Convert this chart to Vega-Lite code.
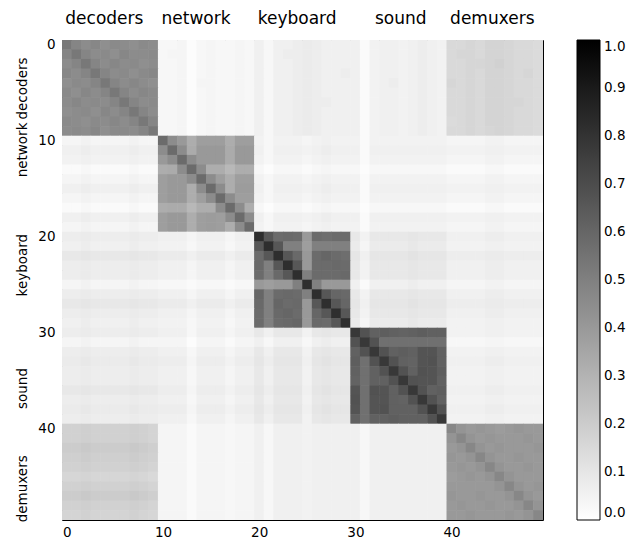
{"$schema":"https://vega.github.io/schema/vega-lite/v6.json","width":481,"height":480,"autosize":{"type":"none"},"padding":{"left":62,"top":40,"right":88,"bottom":19},
"config":{"view":{"stroke":"#000","strokeWidth":1},"font":"DejaVu Sans","axis":{"labelFont":"DejaVu Sans","labelColor":"#000","domain":false,"grid":false,"tickColor":"#000","title":null,"zindex":1}},
"data":{"values":[
{"r":0,"c":0,"v":53},{"r":0,"c":1,"v":48},{"r":0,"c":2,"v":45},{"r":0,"c":3,"v":47},{"r":0,"c":4,"v":44},{"r":0,"c":5,"v":46},{"r":0,"c":6,"v":45},{"r":0,"c":7,"v":44},{"r":0,"c":8,"v":46},{"r":0,"c":9,"v":45},{"r":0,"c":10,"v":3},{"r":0,"c":11,"v":3},{"r":0,"c":12,"v":4},{"r":0,"c":13,"v":1},{"r":0,"c":14,"v":3},{"r":0,"c":15,"v":4},{"r":0,"c":16,"v":3},{"r":0,"c":17,"v":3},{"r":0,"c":18,"v":4},{"r":0,"c":19,"v":3},{"r":0,"c":20,"v":6},{"r":0,"c":21,"v":3},{"r":0,"c":22,"v":6},{"r":0,"c":23,"v":6},{"r":0,"c":24,"v":7},{"r":0,"c":25,"v":8},{"r":0,"c":26,"v":7},{"r":0,"c":27,"v":6},{"r":0,"c":28,"v":6},{"r":0,"c":29,"v":6},{"r":0,"c":30,"v":6},{"r":0,"c":31,"v":2},{"r":0,"c":32,"v":5},{"r":0,"c":33,"v":6},{"r":0,"c":34,"v":6},{"r":0,"c":35,"v":5},{"r":0,"c":36,"v":6},{"r":0,"c":37,"v":7},{"r":0,"c":38,"v":6},{"r":0,"c":39,"v":5},{"r":0,"c":40,"v":15},{"r":0,"c":41,"v":15},{"r":0,"c":42,"v":16},{"r":0,"c":43,"v":15},{"r":0,"c":44,"v":17},{"r":0,"c":45,"v":17},{"r":0,"c":46,"v":16},{"r":0,"c":47,"v":15},{"r":0,"c":48,"v":15},{"r":0,"c":49,"v":14},
{"r":1,"c":0,"v":48},{"r":1,"c":1,"v":53},{"r":1,"c":2,"v":48},{"r":1,"c":3,"v":45},{"r":1,"c":4,"v":46},{"r":1,"c":5,"v":44},{"r":1,"c":6,"v":47},{"r":1,"c":7,"v":45},{"r":1,"c":8,"v":45},{"r":1,"c":9,"v":46},{"r":1,"c":10,"v":3},{"r":1,"c":11,"v":4},{"r":1,"c":12,"v":4},{"r":1,"c":13,"v":1},{"r":1,"c":14,"v":3},{"r":1,"c":15,"v":4},{"r":1,"c":16,"v":3},{"r":1,"c":17,"v":3},{"r":1,"c":18,"v":4},{"r":1,"c":19,"v":3},{"r":1,"c":20,"v":6},{"r":1,"c":21,"v":3},{"r":1,"c":22,"v":6},{"r":1,"c":23,"v":7},{"r":1,"c":24,"v":7},{"r":1,"c":25,"v":8},{"r":1,"c":26,"v":7},{"r":1,"c":27,"v":6},{"r":1,"c":28,"v":6},{"r":1,"c":29,"v":6},{"r":1,"c":30,"v":6},{"r":1,"c":31,"v":2},{"r":1,"c":32,"v":5},{"r":1,"c":33,"v":6},{"r":1,"c":34,"v":6},{"r":1,"c":35,"v":5},{"r":1,"c":36,"v":6},{"r":1,"c":37,"v":7},{"r":1,"c":38,"v":6},{"r":1,"c":39,"v":5},{"r":1,"c":40,"v":15},{"r":1,"c":41,"v":16},{"r":1,"c":42,"v":16},{"r":1,"c":43,"v":15},{"r":1,"c":44,"v":17},{"r":1,"c":45,"v":17},{"r":1,"c":46,"v":16},{"r":1,"c":47,"v":15},{"r":1,"c":48,"v":15},{"r":1,"c":49,"v":14},
{"r":2,"c":0,"v":45},{"r":2,"c":1,"v":48},{"r":2,"c":2,"v":53},{"r":2,"c":3,"v":48},{"r":2,"c":4,"v":45},{"r":2,"c":5,"v":47},{"r":2,"c":6,"v":45},{"r":2,"c":7,"v":46},{"r":2,"c":8,"v":44},{"r":2,"c":9,"v":45},{"r":2,"c":10,"v":3},{"r":2,"c":11,"v":3},{"r":2,"c":12,"v":4},{"r":2,"c":13,"v":1},{"r":2,"c":14,"v":3},{"r":2,"c":15,"v":4},{"r":2,"c":16,"v":3},{"r":2,"c":17,"v":3},{"r":2,"c":18,"v":4},{"r":2,"c":19,"v":3},{"r":2,"c":20,"v":6},{"r":2,"c":21,"v":3},{"r":2,"c":22,"v":6},{"r":2,"c":23,"v":6},{"r":2,"c":24,"v":7},{"r":2,"c":25,"v":8},{"r":2,"c":26,"v":7},{"r":2,"c":27,"v":6},{"r":2,"c":28,"v":6},{"r":2,"c":29,"v":6},{"r":2,"c":30,"v":6},{"r":2,"c":31,"v":2},{"r":2,"c":32,"v":5},{"r":2,"c":33,"v":6},{"r":2,"c":34,"v":6},{"r":2,"c":35,"v":5},{"r":2,"c":36,"v":6},{"r":2,"c":37,"v":7},{"r":2,"c":38,"v":6},{"r":2,"c":39,"v":5},{"r":2,"c":40,"v":15},{"r":2,"c":41,"v":15},{"r":2,"c":42,"v":16},{"r":2,"c":43,"v":16},{"r":2,"c":44,"v":17},{"r":2,"c":45,"v":18},{"r":2,"c":46,"v":16},{"r":2,"c":47,"v":15},{"r":2,"c":48,"v":15},{"r":2,"c":49,"v":14},
{"r":3,"c":0,"v":47},{"r":3,"c":1,"v":45},{"r":3,"c":2,"v":48},{"r":3,"c":3,"v":53},{"r":3,"c":4,"v":48},{"r":3,"c":5,"v":45},{"r":3,"c":6,"v":46},{"r":3,"c":7,"v":44},{"r":3,"c":8,"v":46},{"r":3,"c":9,"v":47},{"r":3,"c":10,"v":3},{"r":3,"c":11,"v":3},{"r":3,"c":12,"v":4},{"r":3,"c":13,"v":1},{"r":3,"c":14,"v":3},{"r":3,"c":15,"v":4},{"r":3,"c":16,"v":3},{"r":3,"c":17,"v":3},{"r":3,"c":18,"v":4},{"r":3,"c":19,"v":3},{"r":3,"c":20,"v":6},{"r":3,"c":21,"v":3},{"r":3,"c":22,"v":6},{"r":3,"c":23,"v":6},{"r":3,"c":24,"v":7},{"r":3,"c":25,"v":8},{"r":3,"c":26,"v":7},{"r":3,"c":27,"v":6},{"r":3,"c":28,"v":6},{"r":3,"c":29,"v":7},{"r":3,"c":30,"v":6},{"r":3,"c":31,"v":2},{"r":3,"c":32,"v":5},{"r":3,"c":33,"v":6},{"r":3,"c":34,"v":6},{"r":3,"c":35,"v":5},{"r":3,"c":36,"v":6},{"r":3,"c":37,"v":7},{"r":3,"c":38,"v":6},{"r":3,"c":39,"v":5},{"r":3,"c":40,"v":15},{"r":3,"c":41,"v":15},{"r":3,"c":42,"v":16},{"r":3,"c":43,"v":15},{"r":3,"c":44,"v":17},{"r":3,"c":45,"v":17},{"r":3,"c":46,"v":16},{"r":3,"c":47,"v":15},{"r":3,"c":48,"v":16},{"r":3,"c":49,"v":14},
{"r":4,"c":0,"v":44},{"r":4,"c":1,"v":46},{"r":4,"c":2,"v":45},{"r":4,"c":3,"v":48},{"r":4,"c":4,"v":53},{"r":4,"c":5,"v":48},{"r":4,"c":6,"v":45},{"r":4,"c":7,"v":47},{"r":4,"c":8,"v":45},{"r":4,"c":9,"v":44},{"r":4,"c":10,"v":3},{"r":4,"c":11,"v":3},{"r":4,"c":12,"v":4},{"r":4,"c":13,"v":1},{"r":4,"c":14,"v":4},{"r":4,"c":15,"v":4},{"r":4,"c":16,"v":3},{"r":4,"c":17,"v":3},{"r":4,"c":18,"v":4},{"r":4,"c":19,"v":3},{"r":4,"c":20,"v":6},{"r":4,"c":21,"v":3},{"r":4,"c":22,"v":6},{"r":4,"c":23,"v":6},{"r":4,"c":24,"v":7},{"r":4,"c":25,"v":8},{"r":4,"c":26,"v":7},{"r":4,"c":27,"v":6},{"r":4,"c":28,"v":6},{"r":4,"c":29,"v":6},{"r":4,"c":30,"v":6},{"r":4,"c":31,"v":2},{"r":4,"c":32,"v":5},{"r":4,"c":33,"v":6},{"r":4,"c":34,"v":7},{"r":4,"c":35,"v":5},{"r":4,"c":36,"v":6},{"r":4,"c":37,"v":7},{"r":4,"c":38,"v":6},{"r":4,"c":39,"v":5},{"r":4,"c":40,"v":16},{"r":4,"c":41,"v":15},{"r":4,"c":42,"v":16},{"r":4,"c":43,"v":15},{"r":4,"c":44,"v":17},{"r":4,"c":45,"v":17},{"r":4,"c":46,"v":16},{"r":4,"c":47,"v":15},{"r":4,"c":48,"v":15},{"r":4,"c":49,"v":14},
{"r":5,"c":0,"v":46},{"r":5,"c":1,"v":44},{"r":5,"c":2,"v":47},{"r":5,"c":3,"v":45},{"r":5,"c":4,"v":48},{"r":5,"c":5,"v":53},{"r":5,"c":6,"v":48},{"r":5,"c":7,"v":45},{"r":5,"c":8,"v":47},{"r":5,"c":9,"v":46},{"r":5,"c":10,"v":3},{"r":5,"c":11,"v":3},{"r":5,"c":12,"v":4},{"r":5,"c":13,"v":1},{"r":5,"c":14,"v":3},{"r":5,"c":15,"v":4},{"r":5,"c":16,"v":3},{"r":5,"c":17,"v":3},{"r":5,"c":18,"v":4},{"r":5,"c":19,"v":3},{"r":5,"c":20,"v":6},{"r":5,"c":21,"v":3},{"r":5,"c":22,"v":6},{"r":5,"c":23,"v":6},{"r":5,"c":24,"v":7},{"r":5,"c":25,"v":8},{"r":5,"c":26,"v":7},{"r":5,"c":27,"v":6},{"r":5,"c":28,"v":6},{"r":5,"c":29,"v":6},{"r":5,"c":30,"v":6},{"r":5,"c":31,"v":2},{"r":5,"c":32,"v":5},{"r":5,"c":33,"v":6},{"r":5,"c":34,"v":6},{"r":5,"c":35,"v":5},{"r":5,"c":36,"v":6},{"r":5,"c":37,"v":7},{"r":5,"c":38,"v":6},{"r":5,"c":39,"v":5},{"r":5,"c":40,"v":15},{"r":5,"c":41,"v":15},{"r":5,"c":42,"v":16},{"r":5,"c":43,"v":15},{"r":5,"c":44,"v":17},{"r":5,"c":45,"v":17},{"r":5,"c":46,"v":16},{"r":5,"c":47,"v":15},{"r":5,"c":48,"v":15},{"r":5,"c":49,"v":14},
{"r":6,"c":0,"v":45},{"r":6,"c":1,"v":47},{"r":6,"c":2,"v":45},{"r":6,"c":3,"v":46},{"r":6,"c":4,"v":45},{"r":6,"c":5,"v":48},{"r":6,"c":6,"v":53},{"r":6,"c":7,"v":48},{"r":6,"c":8,"v":45},{"r":6,"c":9,"v":46},{"r":6,"c":10,"v":3},{"r":6,"c":11,"v":3},{"r":6,"c":12,"v":4},{"r":6,"c":13,"v":1},{"r":6,"c":14,"v":3},{"r":6,"c":15,"v":4},{"r":6,"c":16,"v":3},{"r":6,"c":17,"v":3},{"r":6,"c":18,"v":4},{"r":6,"c":19,"v":3},{"r":6,"c":20,"v":6},{"r":6,"c":21,"v":3},{"r":6,"c":22,"v":6},{"r":6,"c":23,"v":6},{"r":6,"c":24,"v":7},{"r":6,"c":25,"v":8},{"r":6,"c":26,"v":7},{"r":6,"c":27,"v":7},{"r":6,"c":28,"v":6},{"r":6,"c":29,"v":6},{"r":6,"c":30,"v":6},{"r":6,"c":31,"v":2},{"r":6,"c":32,"v":5},{"r":6,"c":33,"v":6},{"r":6,"c":34,"v":6},{"r":6,"c":35,"v":5},{"r":6,"c":36,"v":6},{"r":6,"c":37,"v":7},{"r":6,"c":38,"v":6},{"r":6,"c":39,"v":5},{"r":6,"c":40,"v":15},{"r":6,"c":41,"v":15},{"r":6,"c":42,"v":16},{"r":6,"c":43,"v":15},{"r":6,"c":44,"v":17},{"r":6,"c":45,"v":17},{"r":6,"c":46,"v":16},{"r":6,"c":47,"v":16},{"r":6,"c":48,"v":15},{"r":6,"c":49,"v":14},
{"r":7,"c":0,"v":44},{"r":7,"c":1,"v":45},{"r":7,"c":2,"v":46},{"r":7,"c":3,"v":44},{"r":7,"c":4,"v":47},{"r":7,"c":5,"v":45},{"r":7,"c":6,"v":48},{"r":7,"c":7,"v":53},{"r":7,"c":8,"v":48},{"r":7,"c":9,"v":45},{"r":7,"c":10,"v":3},{"r":7,"c":11,"v":3},{"r":7,"c":12,"v":4},{"r":7,"c":13,"v":1},{"r":7,"c":14,"v":3},{"r":7,"c":15,"v":4},{"r":7,"c":16,"v":3},{"r":7,"c":17,"v":3},{"r":7,"c":18,"v":4},{"r":7,"c":19,"v":3},{"r":7,"c":20,"v":6},{"r":7,"c":21,"v":3},{"r":7,"c":22,"v":6},{"r":7,"c":23,"v":6},{"r":7,"c":24,"v":7},{"r":7,"c":25,"v":8},{"r":7,"c":26,"v":7},{"r":7,"c":27,"v":6},{"r":7,"c":28,"v":6},{"r":7,"c":29,"v":6},{"r":7,"c":30,"v":6},{"r":7,"c":31,"v":2},{"r":7,"c":32,"v":5},{"r":7,"c":33,"v":6},{"r":7,"c":34,"v":6},{"r":7,"c":35,"v":5},{"r":7,"c":36,"v":6},{"r":7,"c":37,"v":7},{"r":7,"c":38,"v":6},{"r":7,"c":39,"v":5},{"r":7,"c":40,"v":15},{"r":7,"c":41,"v":15},{"r":7,"c":42,"v":16},{"r":7,"c":43,"v":15},{"r":7,"c":44,"v":17},{"r":7,"c":45,"v":17},{"r":7,"c":46,"v":16},{"r":7,"c":47,"v":15},{"r":7,"c":48,"v":15},{"r":7,"c":49,"v":14},
{"r":8,"c":0,"v":46},{"r":8,"c":1,"v":45},{"r":8,"c":2,"v":44},{"r":8,"c":3,"v":46},{"r":8,"c":4,"v":45},{"r":8,"c":5,"v":47},{"r":8,"c":6,"v":45},{"r":8,"c":7,"v":48},{"r":8,"c":8,"v":53},{"r":8,"c":9,"v":48},{"r":8,"c":10,"v":3},{"r":8,"c":11,"v":3},{"r":8,"c":12,"v":4},{"r":8,"c":13,"v":1},{"r":8,"c":14,"v":3},{"r":8,"c":15,"v":4},{"r":8,"c":16,"v":3},{"r":8,"c":17,"v":3},{"r":8,"c":18,"v":4},{"r":8,"c":19,"v":3},{"r":8,"c":20,"v":6},{"r":8,"c":21,"v":3},{"r":8,"c":22,"v":6},{"r":8,"c":23,"v":6},{"r":8,"c":24,"v":7},{"r":8,"c":25,"v":8},{"r":8,"c":26,"v":7},{"r":8,"c":27,"v":6},{"r":8,"c":28,"v":6},{"r":8,"c":29,"v":6},{"r":8,"c":30,"v":6},{"r":8,"c":31,"v":2},{"r":8,"c":32,"v":5},{"r":8,"c":33,"v":6},{"r":8,"c":34,"v":6},{"r":8,"c":35,"v":5},{"r":8,"c":36,"v":6},{"r":8,"c":37,"v":7},{"r":8,"c":38,"v":6},{"r":8,"c":39,"v":5},{"r":8,"c":40,"v":14},{"r":8,"c":41,"v":15},{"r":8,"c":42,"v":16},{"r":8,"c":43,"v":15},{"r":8,"c":44,"v":17},{"r":8,"c":45,"v":17},{"r":8,"c":46,"v":16},{"r":8,"c":47,"v":15},{"r":8,"c":48,"v":15},{"r":8,"c":49,"v":14},
{"r":9,"c":0,"v":45},{"r":9,"c":1,"v":46},{"r":9,"c":2,"v":45},{"r":9,"c":3,"v":47},{"r":9,"c":4,"v":44},{"r":9,"c":5,"v":46},{"r":9,"c":6,"v":46},{"r":9,"c":7,"v":45},{"r":9,"c":8,"v":48},{"r":9,"c":9,"v":53},{"r":9,"c":10,"v":3},{"r":9,"c":11,"v":3},{"r":9,"c":12,"v":4},{"r":9,"c":13,"v":1},{"r":9,"c":14,"v":3},{"r":9,"c":15,"v":4},{"r":9,"c":16,"v":3},{"r":9,"c":17,"v":3},{"r":9,"c":18,"v":4},{"r":9,"c":19,"v":3},{"r":9,"c":20,"v":6},{"r":9,"c":21,"v":3},{"r":9,"c":22,"v":6},{"r":9,"c":23,"v":6},{"r":9,"c":24,"v":7},{"r":9,"c":25,"v":8},{"r":9,"c":26,"v":7},{"r":9,"c":27,"v":6},{"r":9,"c":28,"v":6},{"r":9,"c":29,"v":6},{"r":9,"c":30,"v":6},{"r":9,"c":31,"v":2},{"r":9,"c":32,"v":5},{"r":9,"c":33,"v":6},{"r":9,"c":34,"v":6},{"r":9,"c":35,"v":5},{"r":9,"c":36,"v":6},{"r":9,"c":37,"v":7},{"r":9,"c":38,"v":6},{"r":9,"c":39,"v":5},{"r":9,"c":40,"v":15},{"r":9,"c":41,"v":15},{"r":9,"c":42,"v":16},{"r":9,"c":43,"v":15},{"r":9,"c":44,"v":16},{"r":9,"c":45,"v":17},{"r":9,"c":46,"v":16},{"r":9,"c":47,"v":15},{"r":9,"c":48,"v":15},{"r":9,"c":49,"v":14},
{"r":10,"c":0,"v":4},{"r":10,"c":1,"v":4},{"r":10,"c":2,"v":5},{"r":10,"c":3,"v":4},{"r":10,"c":4,"v":4},{"r":10,"c":5,"v":4},{"r":10,"c":6,"v":4},{"r":10,"c":7,"v":5},{"r":10,"c":8,"v":4},{"r":10,"c":9,"v":4},{"r":10,"c":10,"v":58},{"r":10,"c":11,"v":45},{"r":10,"c":12,"v":40},{"r":10,"c":13,"v":32},{"r":10,"c":14,"v":38},{"r":10,"c":15,"v":38},{"r":10,"c":16,"v":38},{"r":10,"c":17,"v":32},{"r":10,"c":18,"v":38},{"r":10,"c":19,"v":38},{"r":10,"c":20,"v":5},{"r":10,"c":21,"v":3},{"r":10,"c":22,"v":5},{"r":10,"c":23,"v":5},{"r":10,"c":24,"v":5},{"r":10,"c":25,"v":4},{"r":10,"c":26,"v":5},{"r":10,"c":27,"v":6},{"r":10,"c":28,"v":5},{"r":10,"c":29,"v":5},{"r":10,"c":30,"v":5},{"r":10,"c":31,"v":2},{"r":10,"c":32,"v":5},{"r":10,"c":33,"v":5},{"r":10,"c":34,"v":5},{"r":10,"c":35,"v":5},{"r":10,"c":36,"v":5},{"r":10,"c":37,"v":5},{"r":10,"c":38,"v":5},{"r":10,"c":39,"v":5},{"r":10,"c":40,"v":4},{"r":10,"c":41,"v":4},{"r":10,"c":42,"v":4},{"r":10,"c":43,"v":4},{"r":10,"c":44,"v":5},{"r":10,"c":45,"v":5},{"r":10,"c":46,"v":4},{"r":10,"c":47,"v":4},{"r":10,"c":48,"v":4},{"r":10,"c":49,"v":4},
{"r":11,"c":0,"v":6},{"r":11,"c":1,"v":6},{"r":11,"c":2,"v":7},{"r":11,"c":3,"v":6},{"r":11,"c":4,"v":6},{"r":11,"c":5,"v":6},{"r":11,"c":6,"v":6},{"r":11,"c":7,"v":7},{"r":11,"c":8,"v":6},{"r":11,"c":9,"v":6},{"r":11,"c":10,"v":45},{"r":11,"c":11,"v":58},{"r":11,"c":12,"v":45},{"r":11,"c":13,"v":33},{"r":11,"c":14,"v":40},{"r":11,"c":15,"v":40},{"r":11,"c":16,"v":40},{"r":11,"c":17,"v":33},{"r":11,"c":18,"v":40},{"r":11,"c":19,"v":40},{"r":11,"c":20,"v":6},{"r":11,"c":21,"v":3},{"r":11,"c":22,"v":6},{"r":11,"c":23,"v":6},{"r":11,"c":24,"v":6},{"r":11,"c":25,"v":5},{"r":11,"c":26,"v":6},{"r":11,"c":27,"v":7},{"r":11,"c":28,"v":6},{"r":11,"c":29,"v":6},{"r":11,"c":30,"v":6},{"r":11,"c":31,"v":2},{"r":11,"c":32,"v":6},{"r":11,"c":33,"v":6},{"r":11,"c":34,"v":6},{"r":11,"c":35,"v":6},{"r":11,"c":36,"v":6},{"r":11,"c":37,"v":6},{"r":11,"c":38,"v":6},{"r":11,"c":39,"v":6},{"r":11,"c":40,"v":5},{"r":11,"c":41,"v":5},{"r":11,"c":42,"v":5},{"r":11,"c":43,"v":5},{"r":11,"c":44,"v":6},{"r":11,"c":45,"v":6},{"r":11,"c":46,"v":5},{"r":11,"c":47,"v":5},{"r":11,"c":48,"v":5},{"r":11,"c":49,"v":5},
{"r":12,"c":0,"v":5},{"r":12,"c":1,"v":5},{"r":12,"c":2,"v":6},{"r":12,"c":3,"v":5},{"r":12,"c":4,"v":5},{"r":12,"c":5,"v":5},{"r":12,"c":6,"v":5},{"r":12,"c":7,"v":6},{"r":12,"c":8,"v":5},{"r":12,"c":9,"v":5},{"r":12,"c":10,"v":40},{"r":12,"c":11,"v":45},{"r":12,"c":12,"v":58},{"r":12,"c":13,"v":45},{"r":12,"c":14,"v":40},{"r":12,"c":15,"v":40},{"r":12,"c":16,"v":40},{"r":12,"c":17,"v":33},{"r":12,"c":18,"v":40},{"r":12,"c":19,"v":40},{"r":12,"c":20,"v":5},{"r":12,"c":21,"v":3},{"r":12,"c":22,"v":5},{"r":12,"c":23,"v":5},{"r":12,"c":24,"v":5},{"r":12,"c":25,"v":4},{"r":12,"c":26,"v":5},{"r":12,"c":27,"v":6},{"r":12,"c":28,"v":5},{"r":12,"c":29,"v":5},{"r":12,"c":30,"v":5},{"r":12,"c":31,"v":2},{"r":12,"c":32,"v":5},{"r":12,"c":33,"v":5},{"r":12,"c":34,"v":5},{"r":12,"c":35,"v":5},{"r":12,"c":36,"v":5},{"r":12,"c":37,"v":5},{"r":12,"c":38,"v":5},{"r":12,"c":39,"v":5},{"r":12,"c":40,"v":4},{"r":12,"c":41,"v":4},{"r":12,"c":42,"v":4},{"r":12,"c":43,"v":4},{"r":12,"c":44,"v":5},{"r":12,"c":45,"v":5},{"r":12,"c":46,"v":4},{"r":12,"c":47,"v":4},{"r":12,"c":48,"v":4},{"r":12,"c":49,"v":4},
{"r":13,"c":0,"v":2},{"r":13,"c":1,"v":2},{"r":13,"c":2,"v":3},{"r":13,"c":3,"v":2},{"r":13,"c":4,"v":2},{"r":13,"c":5,"v":2},{"r":13,"c":6,"v":2},{"r":13,"c":7,"v":3},{"r":13,"c":8,"v":2},{"r":13,"c":9,"v":2},{"r":13,"c":10,"v":32},{"r":13,"c":11,"v":33},{"r":13,"c":12,"v":45},{"r":13,"c":13,"v":58},{"r":13,"c":14,"v":45},{"r":13,"c":15,"v":32},{"r":13,"c":16,"v":32},{"r":13,"c":17,"v":28},{"r":13,"c":18,"v":32},{"r":13,"c":19,"v":32},{"r":13,"c":20,"v":3},{"r":13,"c":21,"v":1},{"r":13,"c":22,"v":3},{"r":13,"c":23,"v":3},{"r":13,"c":24,"v":3},{"r":13,"c":25,"v":2},{"r":13,"c":26,"v":3},{"r":13,"c":27,"v":4},{"r":13,"c":28,"v":3},{"r":13,"c":29,"v":3},{"r":13,"c":30,"v":3},{"r":13,"c":31,"v":1},{"r":13,"c":32,"v":3},{"r":13,"c":33,"v":3},{"r":13,"c":34,"v":3},{"r":13,"c":35,"v":3},{"r":13,"c":36,"v":3},{"r":13,"c":37,"v":3},{"r":13,"c":38,"v":3},{"r":13,"c":39,"v":3},{"r":13,"c":40,"v":2},{"r":13,"c":41,"v":2},{"r":13,"c":42,"v":2},{"r":13,"c":43,"v":2},{"r":13,"c":44,"v":3},{"r":13,"c":45,"v":3},{"r":13,"c":46,"v":2},{"r":13,"c":47,"v":2},{"r":13,"c":48,"v":2},{"r":13,"c":49,"v":2},
{"r":14,"c":0,"v":4},{"r":14,"c":1,"v":4},{"r":14,"c":2,"v":5},{"r":14,"c":3,"v":4},{"r":14,"c":4,"v":4},{"r":14,"c":5,"v":4},{"r":14,"c":6,"v":4},{"r":14,"c":7,"v":5},{"r":14,"c":8,"v":4},{"r":14,"c":9,"v":4},{"r":14,"c":10,"v":38},{"r":14,"c":11,"v":40},{"r":14,"c":12,"v":40},{"r":14,"c":13,"v":45},{"r":14,"c":14,"v":58},{"r":14,"c":15,"v":45},{"r":14,"c":16,"v":38},{"r":14,"c":17,"v":32},{"r":14,"c":18,"v":38},{"r":14,"c":19,"v":38},{"r":14,"c":20,"v":5},{"r":14,"c":21,"v":3},{"r":14,"c":22,"v":5},{"r":14,"c":23,"v":5},{"r":14,"c":24,"v":5},{"r":14,"c":25,"v":4},{"r":14,"c":26,"v":5},{"r":14,"c":27,"v":6},{"r":14,"c":28,"v":5},{"r":14,"c":29,"v":5},{"r":14,"c":30,"v":5},{"r":14,"c":31,"v":2},{"r":14,"c":32,"v":5},{"r":14,"c":33,"v":5},{"r":14,"c":34,"v":5},{"r":14,"c":35,"v":5},{"r":14,"c":36,"v":5},{"r":14,"c":37,"v":5},{"r":14,"c":38,"v":5},{"r":14,"c":39,"v":5},{"r":14,"c":40,"v":4},{"r":14,"c":41,"v":4},{"r":14,"c":42,"v":4},{"r":14,"c":43,"v":4},{"r":14,"c":44,"v":5},{"r":14,"c":45,"v":5},{"r":14,"c":46,"v":4},{"r":14,"c":47,"v":4},{"r":14,"c":48,"v":4},{"r":14,"c":49,"v":4},
{"r":15,"c":0,"v":6},{"r":15,"c":1,"v":6},{"r":15,"c":2,"v":7},{"r":15,"c":3,"v":6},{"r":15,"c":4,"v":6},{"r":15,"c":5,"v":6},{"r":15,"c":6,"v":6},{"r":15,"c":7,"v":7},{"r":15,"c":8,"v":6},{"r":15,"c":9,"v":6},{"r":15,"c":10,"v":38},{"r":15,"c":11,"v":40},{"r":15,"c":12,"v":40},{"r":15,"c":13,"v":32},{"r":15,"c":14,"v":45},{"r":15,"c":15,"v":58},{"r":15,"c":16,"v":45},{"r":15,"c":17,"v":32},{"r":15,"c":18,"v":39},{"r":15,"c":19,"v":39},{"r":15,"c":20,"v":6},{"r":15,"c":21,"v":3},{"r":15,"c":22,"v":6},{"r":15,"c":23,"v":6},{"r":15,"c":24,"v":6},{"r":15,"c":25,"v":5},{"r":15,"c":26,"v":6},{"r":15,"c":27,"v":7},{"r":15,"c":28,"v":6},{"r":15,"c":29,"v":6},{"r":15,"c":30,"v":6},{"r":15,"c":31,"v":2},{"r":15,"c":32,"v":6},{"r":15,"c":33,"v":6},{"r":15,"c":34,"v":6},{"r":15,"c":35,"v":6},{"r":15,"c":36,"v":6},{"r":15,"c":37,"v":6},{"r":15,"c":38,"v":6},{"r":15,"c":39,"v":6},{"r":15,"c":40,"v":5},{"r":15,"c":41,"v":5},{"r":15,"c":42,"v":5},{"r":15,"c":43,"v":5},{"r":15,"c":44,"v":6},{"r":15,"c":45,"v":6},{"r":15,"c":46,"v":5},{"r":15,"c":47,"v":5},{"r":15,"c":48,"v":5},{"r":15,"c":49,"v":5},
{"r":16,"c":0,"v":4},{"r":16,"c":1,"v":4},{"r":16,"c":2,"v":5},{"r":16,"c":3,"v":4},{"r":16,"c":4,"v":4},{"r":16,"c":5,"v":4},{"r":16,"c":6,"v":4},{"r":16,"c":7,"v":5},{"r":16,"c":8,"v":4},{"r":16,"c":9,"v":4},{"r":16,"c":10,"v":38},{"r":16,"c":11,"v":40},{"r":16,"c":12,"v":40},{"r":16,"c":13,"v":32},{"r":16,"c":14,"v":38},{"r":16,"c":15,"v":45},{"r":16,"c":16,"v":58},{"r":16,"c":17,"v":45},{"r":16,"c":18,"v":38},{"r":16,"c":19,"v":38},{"r":16,"c":20,"v":5},{"r":16,"c":21,"v":3},{"r":16,"c":22,"v":5},{"r":16,"c":23,"v":5},{"r":16,"c":24,"v":5},{"r":16,"c":25,"v":4},{"r":16,"c":26,"v":5},{"r":16,"c":27,"v":6},{"r":16,"c":28,"v":5},{"r":16,"c":29,"v":5},{"r":16,"c":30,"v":5},{"r":16,"c":31,"v":2},{"r":16,"c":32,"v":5},{"r":16,"c":33,"v":5},{"r":16,"c":34,"v":5},{"r":16,"c":35,"v":5},{"r":16,"c":36,"v":5},{"r":16,"c":37,"v":5},{"r":16,"c":38,"v":5},{"r":16,"c":39,"v":5},{"r":16,"c":40,"v":4},{"r":16,"c":41,"v":4},{"r":16,"c":42,"v":4},{"r":16,"c":43,"v":4},{"r":16,"c":44,"v":5},{"r":16,"c":45,"v":5},{"r":16,"c":46,"v":4},{"r":16,"c":47,"v":4},{"r":16,"c":48,"v":4},{"r":16,"c":49,"v":4},
{"r":17,"c":0,"v":2},{"r":17,"c":1,"v":2},{"r":17,"c":2,"v":3},{"r":17,"c":3,"v":2},{"r":17,"c":4,"v":2},{"r":17,"c":5,"v":2},{"r":17,"c":6,"v":2},{"r":17,"c":7,"v":3},{"r":17,"c":8,"v":2},{"r":17,"c":9,"v":2},{"r":17,"c":10,"v":32},{"r":17,"c":11,"v":33},{"r":17,"c":12,"v":33},{"r":17,"c":13,"v":28},{"r":17,"c":14,"v":32},{"r":17,"c":15,"v":32},{"r":17,"c":16,"v":45},{"r":17,"c":17,"v":58},{"r":17,"c":18,"v":45},{"r":17,"c":19,"v":32},{"r":17,"c":20,"v":3},{"r":17,"c":21,"v":1},{"r":17,"c":22,"v":3},{"r":17,"c":23,"v":3},{"r":17,"c":24,"v":3},{"r":17,"c":25,"v":2},{"r":17,"c":26,"v":3},{"r":17,"c":27,"v":4},{"r":17,"c":28,"v":3},{"r":17,"c":29,"v":3},{"r":17,"c":30,"v":3},{"r":17,"c":31,"v":1},{"r":17,"c":32,"v":3},{"r":17,"c":33,"v":3},{"r":17,"c":34,"v":3},{"r":17,"c":35,"v":3},{"r":17,"c":36,"v":3},{"r":17,"c":37,"v":3},{"r":17,"c":38,"v":3},{"r":17,"c":39,"v":3},{"r":17,"c":40,"v":2},{"r":17,"c":41,"v":2},{"r":17,"c":42,"v":2},{"r":17,"c":43,"v":2},{"r":17,"c":44,"v":3},{"r":17,"c":45,"v":3},{"r":17,"c":46,"v":2},{"r":17,"c":47,"v":2},{"r":17,"c":48,"v":2},{"r":17,"c":49,"v":2},
{"r":18,"c":0,"v":6},{"r":18,"c":1,"v":6},{"r":18,"c":2,"v":7},{"r":18,"c":3,"v":6},{"r":18,"c":4,"v":6},{"r":18,"c":5,"v":6},{"r":18,"c":6,"v":6},{"r":18,"c":7,"v":7},{"r":18,"c":8,"v":6},{"r":18,"c":9,"v":6},{"r":18,"c":10,"v":38},{"r":18,"c":11,"v":40},{"r":18,"c":12,"v":40},{"r":18,"c":13,"v":32},{"r":18,"c":14,"v":38},{"r":18,"c":15,"v":39},{"r":18,"c":16,"v":38},{"r":18,"c":17,"v":45},{"r":18,"c":18,"v":58},{"r":18,"c":19,"v":45},{"r":18,"c":20,"v":6},{"r":18,"c":21,"v":3},{"r":18,"c":22,"v":6},{"r":18,"c":23,"v":6},{"r":18,"c":24,"v":6},{"r":18,"c":25,"v":5},{"r":18,"c":26,"v":6},{"r":18,"c":27,"v":7},{"r":18,"c":28,"v":6},{"r":18,"c":29,"v":6},{"r":18,"c":30,"v":6},{"r":18,"c":31,"v":2},{"r":18,"c":32,"v":6},{"r":18,"c":33,"v":6},{"r":18,"c":34,"v":6},{"r":18,"c":35,"v":6},{"r":18,"c":36,"v":6},{"r":18,"c":37,"v":6},{"r":18,"c":38,"v":6},{"r":18,"c":39,"v":6},{"r":18,"c":40,"v":5},{"r":18,"c":41,"v":5},{"r":18,"c":42,"v":5},{"r":18,"c":43,"v":5},{"r":18,"c":44,"v":6},{"r":18,"c":45,"v":6},{"r":18,"c":46,"v":5},{"r":18,"c":47,"v":5},{"r":18,"c":48,"v":5},{"r":18,"c":49,"v":5},
{"r":19,"c":0,"v":4},{"r":19,"c":1,"v":4},{"r":19,"c":2,"v":5},{"r":19,"c":3,"v":4},{"r":19,"c":4,"v":4},{"r":19,"c":5,"v":4},{"r":19,"c":6,"v":4},{"r":19,"c":7,"v":5},{"r":19,"c":8,"v":4},{"r":19,"c":9,"v":4},{"r":19,"c":10,"v":38},{"r":19,"c":11,"v":40},{"r":19,"c":12,"v":40},{"r":19,"c":13,"v":32},{"r":19,"c":14,"v":38},{"r":19,"c":15,"v":39},{"r":19,"c":16,"v":38},{"r":19,"c":17,"v":32},{"r":19,"c":18,"v":45},{"r":19,"c":19,"v":58},{"r":19,"c":20,"v":5},{"r":19,"c":21,"v":3},{"r":19,"c":22,"v":5},{"r":19,"c":23,"v":5},{"r":19,"c":24,"v":5},{"r":19,"c":25,"v":4},{"r":19,"c":26,"v":5},{"r":19,"c":27,"v":6},{"r":19,"c":28,"v":5},{"r":19,"c":29,"v":5},{"r":19,"c":30,"v":5},{"r":19,"c":31,"v":2},{"r":19,"c":32,"v":5},{"r":19,"c":33,"v":5},{"r":19,"c":34,"v":5},{"r":19,"c":35,"v":5},{"r":19,"c":36,"v":5},{"r":19,"c":37,"v":5},{"r":19,"c":38,"v":5},{"r":19,"c":39,"v":5},{"r":19,"c":40,"v":4},{"r":19,"c":41,"v":4},{"r":19,"c":42,"v":4},{"r":19,"c":43,"v":4},{"r":19,"c":44,"v":5},{"r":19,"c":45,"v":5},{"r":19,"c":46,"v":4},{"r":19,"c":47,"v":4},{"r":19,"c":48,"v":4},{"r":19,"c":49,"v":4},
{"r":20,"c":0,"v":7},{"r":20,"c":1,"v":7},{"r":20,"c":2,"v":8},{"r":20,"c":3,"v":7},{"r":20,"c":4,"v":7},{"r":20,"c":5,"v":7},{"r":20,"c":6,"v":7},{"r":20,"c":7,"v":8},{"r":20,"c":8,"v":7},{"r":20,"c":9,"v":7},{"r":20,"c":10,"v":6},{"r":20,"c":11,"v":6},{"r":20,"c":12,"v":6},{"r":20,"c":13,"v":4},{"r":20,"c":14,"v":6},{"r":20,"c":15,"v":6},{"r":20,"c":16,"v":6},{"r":20,"c":17,"v":4},{"r":20,"c":18,"v":6},{"r":20,"c":19,"v":6},{"r":20,"c":20,"v":82},{"r":20,"c":21,"v":66},{"r":20,"c":22,"v":58},{"r":20,"c":23,"v":59},{"r":20,"c":24,"v":58},{"r":20,"c":25,"v":40},{"r":20,"c":26,"v":58},{"r":20,"c":27,"v":57},{"r":20,"c":28,"v":58},{"r":20,"c":29,"v":58},{"r":20,"c":30,"v":9},{"r":20,"c":31,"v":5},{"r":20,"c":32,"v":9},{"r":20,"c":33,"v":9},{"r":20,"c":34,"v":9},{"r":20,"c":35,"v":9},{"r":20,"c":36,"v":10},{"r":20,"c":37,"v":9},{"r":20,"c":38,"v":9},{"r":20,"c":39,"v":9},{"r":20,"c":40,"v":6},{"r":20,"c":41,"v":6},{"r":20,"c":42,"v":6},{"r":20,"c":43,"v":6},{"r":20,"c":44,"v":7},{"r":20,"c":45,"v":7},{"r":20,"c":46,"v":6},{"r":20,"c":47,"v":6},{"r":20,"c":48,"v":6},{"r":20,"c":49,"v":6},
{"r":21,"c":0,"v":6},{"r":21,"c":1,"v":6},{"r":21,"c":2,"v":7},{"r":21,"c":3,"v":6},{"r":21,"c":4,"v":6},{"r":21,"c":5,"v":6},{"r":21,"c":6,"v":6},{"r":21,"c":7,"v":7},{"r":21,"c":8,"v":6},{"r":21,"c":9,"v":6},{"r":21,"c":10,"v":5},{"r":21,"c":11,"v":5},{"r":21,"c":12,"v":5},{"r":21,"c":13,"v":3},{"r":21,"c":14,"v":5},{"r":21,"c":15,"v":5},{"r":21,"c":16,"v":5},{"r":21,"c":17,"v":3},{"r":21,"c":18,"v":5},{"r":21,"c":19,"v":5},{"r":21,"c":20,"v":66},{"r":21,"c":21,"v":82},{"r":21,"c":22,"v":66},{"r":21,"c":23,"v":50},{"r":21,"c":24,"v":50},{"r":21,"c":25,"v":38},{"r":21,"c":26,"v":50},{"r":21,"c":27,"v":50},{"r":21,"c":28,"v":50},{"r":21,"c":29,"v":50},{"r":21,"c":30,"v":8},{"r":21,"c":31,"v":4},{"r":21,"c":32,"v":8},{"r":21,"c":33,"v":8},{"r":21,"c":34,"v":8},{"r":21,"c":35,"v":8},{"r":21,"c":36,"v":9},{"r":21,"c":37,"v":8},{"r":21,"c":38,"v":8},{"r":21,"c":39,"v":8},{"r":21,"c":40,"v":5},{"r":21,"c":41,"v":5},{"r":21,"c":42,"v":5},{"r":21,"c":43,"v":5},{"r":21,"c":44,"v":6},{"r":21,"c":45,"v":6},{"r":21,"c":46,"v":5},{"r":21,"c":47,"v":5},{"r":21,"c":48,"v":5},{"r":21,"c":49,"v":5},
{"r":22,"c":0,"v":9},{"r":22,"c":1,"v":9},{"r":22,"c":2,"v":10},{"r":22,"c":3,"v":9},{"r":22,"c":4,"v":9},{"r":22,"c":5,"v":9},{"r":22,"c":6,"v":9},{"r":22,"c":7,"v":10},{"r":22,"c":8,"v":9},{"r":22,"c":9,"v":9},{"r":22,"c":10,"v":8},{"r":22,"c":11,"v":8},{"r":22,"c":12,"v":8},{"r":22,"c":13,"v":6},{"r":22,"c":14,"v":8},{"r":22,"c":15,"v":8},{"r":22,"c":16,"v":8},{"r":22,"c":17,"v":6},{"r":22,"c":18,"v":8},{"r":22,"c":19,"v":8},{"r":22,"c":20,"v":58},{"r":22,"c":21,"v":66},{"r":22,"c":22,"v":82},{"r":22,"c":23,"v":66},{"r":22,"c":24,"v":59},{"r":22,"c":25,"v":40},{"r":22,"c":26,"v":58},{"r":22,"c":27,"v":60},{"r":22,"c":28,"v":58},{"r":22,"c":29,"v":57},{"r":22,"c":30,"v":10},{"r":22,"c":31,"v":6},{"r":22,"c":32,"v":10},{"r":22,"c":33,"v":10},{"r":22,"c":34,"v":10},{"r":22,"c":35,"v":10},{"r":22,"c":36,"v":11},{"r":22,"c":37,"v":10},{"r":22,"c":38,"v":10},{"r":22,"c":39,"v":10},{"r":22,"c":40,"v":7},{"r":22,"c":41,"v":7},{"r":22,"c":42,"v":7},{"r":22,"c":43,"v":7},{"r":22,"c":44,"v":8},{"r":22,"c":45,"v":8},{"r":22,"c":46,"v":7},{"r":22,"c":47,"v":7},{"r":22,"c":48,"v":7},{"r":22,"c":49,"v":7},
{"r":23,"c":0,"v":7},{"r":23,"c":1,"v":7},{"r":23,"c":2,"v":8},{"r":23,"c":3,"v":7},{"r":23,"c":4,"v":7},{"r":23,"c":5,"v":7},{"r":23,"c":6,"v":7},{"r":23,"c":7,"v":8},{"r":23,"c":8,"v":7},{"r":23,"c":9,"v":7},{"r":23,"c":10,"v":6},{"r":23,"c":11,"v":6},{"r":23,"c":12,"v":6},{"r":23,"c":13,"v":4},{"r":23,"c":14,"v":6},{"r":23,"c":15,"v":6},{"r":23,"c":16,"v":6},{"r":23,"c":17,"v":4},{"r":23,"c":18,"v":6},{"r":23,"c":19,"v":6},{"r":23,"c":20,"v":59},{"r":23,"c":21,"v":50},{"r":23,"c":22,"v":66},{"r":23,"c":23,"v":82},{"r":23,"c":24,"v":66},{"r":23,"c":25,"v":40},{"r":23,"c":26,"v":58},{"r":23,"c":27,"v":58},{"r":23,"c":28,"v":59},{"r":23,"c":29,"v":58},{"r":23,"c":30,"v":9},{"r":23,"c":31,"v":5},{"r":23,"c":32,"v":9},{"r":23,"c":33,"v":9},{"r":23,"c":34,"v":9},{"r":23,"c":35,"v":9},{"r":23,"c":36,"v":10},{"r":23,"c":37,"v":9},{"r":23,"c":38,"v":9},{"r":23,"c":39,"v":9},{"r":23,"c":40,"v":6},{"r":23,"c":41,"v":6},{"r":23,"c":42,"v":6},{"r":23,"c":43,"v":6},{"r":23,"c":44,"v":7},{"r":23,"c":45,"v":7},{"r":23,"c":46,"v":6},{"r":23,"c":47,"v":6},{"r":23,"c":48,"v":6},{"r":23,"c":49,"v":6},
{"r":24,"c":0,"v":7},{"r":24,"c":1,"v":7},{"r":24,"c":2,"v":8},{"r":24,"c":3,"v":7},{"r":24,"c":4,"v":7},{"r":24,"c":5,"v":7},{"r":24,"c":6,"v":7},{"r":24,"c":7,"v":8},{"r":24,"c":8,"v":7},{"r":24,"c":9,"v":7},{"r":24,"c":10,"v":6},{"r":24,"c":11,"v":6},{"r":24,"c":12,"v":6},{"r":24,"c":13,"v":4},{"r":24,"c":14,"v":6},{"r":24,"c":15,"v":6},{"r":24,"c":16,"v":6},{"r":24,"c":17,"v":4},{"r":24,"c":18,"v":6},{"r":24,"c":19,"v":6},{"r":24,"c":20,"v":58},{"r":24,"c":21,"v":50},{"r":24,"c":22,"v":59},{"r":24,"c":23,"v":66},{"r":24,"c":24,"v":82},{"r":24,"c":25,"v":50},{"r":24,"c":26,"v":58},{"r":24,"c":27,"v":58},{"r":24,"c":28,"v":58},{"r":24,"c":29,"v":59},{"r":24,"c":30,"v":9},{"r":24,"c":31,"v":5},{"r":24,"c":32,"v":9},{"r":24,"c":33,"v":9},{"r":24,"c":34,"v":9},{"r":24,"c":35,"v":9},{"r":24,"c":36,"v":10},{"r":24,"c":37,"v":9},{"r":24,"c":38,"v":9},{"r":24,"c":39,"v":9},{"r":24,"c":40,"v":6},{"r":24,"c":41,"v":6},{"r":24,"c":42,"v":6},{"r":24,"c":43,"v":6},{"r":24,"c":44,"v":7},{"r":24,"c":45,"v":7},{"r":24,"c":46,"v":6},{"r":24,"c":47,"v":6},{"r":24,"c":48,"v":6},{"r":24,"c":49,"v":6},
{"r":25,"c":0,"v":4},{"r":25,"c":1,"v":4},{"r":25,"c":2,"v":5},{"r":25,"c":3,"v":4},{"r":25,"c":4,"v":4},{"r":25,"c":5,"v":4},{"r":25,"c":6,"v":4},{"r":25,"c":7,"v":5},{"r":25,"c":8,"v":4},{"r":25,"c":9,"v":4},{"r":25,"c":10,"v":3},{"r":25,"c":11,"v":3},{"r":25,"c":12,"v":3},{"r":25,"c":13,"v":2},{"r":25,"c":14,"v":3},{"r":25,"c":15,"v":3},{"r":25,"c":16,"v":3},{"r":25,"c":17,"v":2},{"r":25,"c":18,"v":3},{"r":25,"c":19,"v":3},{"r":25,"c":20,"v":40},{"r":25,"c":21,"v":38},{"r":25,"c":22,"v":40},{"r":25,"c":23,"v":40},{"r":25,"c":24,"v":50},{"r":25,"c":25,"v":82},{"r":25,"c":26,"v":50},{"r":25,"c":27,"v":40},{"r":25,"c":28,"v":40},{"r":25,"c":29,"v":40},{"r":25,"c":30,"v":6},{"r":25,"c":31,"v":2},{"r":25,"c":32,"v":6},{"r":25,"c":33,"v":6},{"r":25,"c":34,"v":6},{"r":25,"c":35,"v":6},{"r":25,"c":36,"v":7},{"r":25,"c":37,"v":6},{"r":25,"c":38,"v":6},{"r":25,"c":39,"v":6},{"r":25,"c":40,"v":4},{"r":25,"c":41,"v":4},{"r":25,"c":42,"v":4},{"r":25,"c":43,"v":4},{"r":25,"c":44,"v":5},{"r":25,"c":45,"v":5},{"r":25,"c":46,"v":4},{"r":25,"c":47,"v":4},{"r":25,"c":48,"v":4},{"r":25,"c":49,"v":4},
{"r":26,"c":0,"v":7},{"r":26,"c":1,"v":7},{"r":26,"c":2,"v":8},{"r":26,"c":3,"v":7},{"r":26,"c":4,"v":7},{"r":26,"c":5,"v":7},{"r":26,"c":6,"v":7},{"r":26,"c":7,"v":8},{"r":26,"c":8,"v":7},{"r":26,"c":9,"v":7},{"r":26,"c":10,"v":6},{"r":26,"c":11,"v":6},{"r":26,"c":12,"v":6},{"r":26,"c":13,"v":4},{"r":26,"c":14,"v":6},{"r":26,"c":15,"v":6},{"r":26,"c":16,"v":6},{"r":26,"c":17,"v":4},{"r":26,"c":18,"v":6},{"r":26,"c":19,"v":6},{"r":26,"c":20,"v":60},{"r":26,"c":21,"v":50},{"r":26,"c":22,"v":58},{"r":26,"c":23,"v":59},{"r":26,"c":24,"v":58},{"r":26,"c":25,"v":50},{"r":26,"c":26,"v":82},{"r":26,"c":27,"v":66},{"r":26,"c":28,"v":60},{"r":26,"c":29,"v":59},{"r":26,"c":30,"v":9},{"r":26,"c":31,"v":5},{"r":26,"c":32,"v":9},{"r":26,"c":33,"v":9},{"r":26,"c":34,"v":9},{"r":26,"c":35,"v":9},{"r":26,"c":36,"v":10},{"r":26,"c":37,"v":9},{"r":26,"c":38,"v":9},{"r":26,"c":39,"v":9},{"r":26,"c":40,"v":6},{"r":26,"c":41,"v":6},{"r":26,"c":42,"v":6},{"r":26,"c":43,"v":6},{"r":26,"c":44,"v":7},{"r":26,"c":45,"v":7},{"r":26,"c":46,"v":6},{"r":26,"c":47,"v":6},{"r":26,"c":48,"v":6},{"r":26,"c":49,"v":6},
{"r":27,"c":0,"v":9},{"r":27,"c":1,"v":9},{"r":27,"c":2,"v":10},{"r":27,"c":3,"v":9},{"r":27,"c":4,"v":9},{"r":27,"c":5,"v":9},{"r":27,"c":6,"v":9},{"r":27,"c":7,"v":10},{"r":27,"c":8,"v":9},{"r":27,"c":9,"v":9},{"r":27,"c":10,"v":8},{"r":27,"c":11,"v":8},{"r":27,"c":12,"v":8},{"r":27,"c":13,"v":6},{"r":27,"c":14,"v":8},{"r":27,"c":15,"v":8},{"r":27,"c":16,"v":8},{"r":27,"c":17,"v":6},{"r":27,"c":18,"v":8},{"r":27,"c":19,"v":8},{"r":27,"c":20,"v":59},{"r":27,"c":21,"v":50},{"r":27,"c":22,"v":60},{"r":27,"c":23,"v":58},{"r":27,"c":24,"v":59},{"r":27,"c":25,"v":40},{"r":27,"c":26,"v":66},{"r":27,"c":27,"v":82},{"r":27,"c":28,"v":66},{"r":27,"c":29,"v":60},{"r":27,"c":30,"v":10},{"r":27,"c":31,"v":6},{"r":27,"c":32,"v":10},{"r":27,"c":33,"v":10},{"r":27,"c":34,"v":10},{"r":27,"c":35,"v":10},{"r":27,"c":36,"v":11},{"r":27,"c":37,"v":10},{"r":27,"c":38,"v":10},{"r":27,"c":39,"v":10},{"r":27,"c":40,"v":7},{"r":27,"c":41,"v":7},{"r":27,"c":42,"v":7},{"r":27,"c":43,"v":7},{"r":27,"c":44,"v":8},{"r":27,"c":45,"v":8},{"r":27,"c":46,"v":7},{"r":27,"c":47,"v":7},{"r":27,"c":48,"v":7},{"r":27,"c":49,"v":7},
{"r":28,"c":0,"v":7},{"r":28,"c":1,"v":7},{"r":28,"c":2,"v":8},{"r":28,"c":3,"v":7},{"r":28,"c":4,"v":7},{"r":28,"c":5,"v":7},{"r":28,"c":6,"v":7},{"r":28,"c":7,"v":8},{"r":28,"c":8,"v":7},{"r":28,"c":9,"v":7},{"r":28,"c":10,"v":6},{"r":28,"c":11,"v":6},{"r":28,"c":12,"v":6},{"r":28,"c":13,"v":4},{"r":28,"c":14,"v":6},{"r":28,"c":15,"v":6},{"r":28,"c":16,"v":6},{"r":28,"c":17,"v":4},{"r":28,"c":18,"v":6},{"r":28,"c":19,"v":6},{"r":28,"c":20,"v":58},{"r":28,"c":21,"v":50},{"r":28,"c":22,"v":59},{"r":28,"c":23,"v":60},{"r":28,"c":24,"v":58},{"r":28,"c":25,"v":40},{"r":28,"c":26,"v":60},{"r":28,"c":27,"v":66},{"r":28,"c":28,"v":82},{"r":28,"c":29,"v":66},{"r":28,"c":30,"v":9},{"r":28,"c":31,"v":5},{"r":28,"c":32,"v":9},{"r":28,"c":33,"v":9},{"r":28,"c":34,"v":9},{"r":28,"c":35,"v":9},{"r":28,"c":36,"v":10},{"r":28,"c":37,"v":9},{"r":28,"c":38,"v":9},{"r":28,"c":39,"v":9},{"r":28,"c":40,"v":6},{"r":28,"c":41,"v":6},{"r":28,"c":42,"v":6},{"r":28,"c":43,"v":6},{"r":28,"c":44,"v":7},{"r":28,"c":45,"v":7},{"r":28,"c":46,"v":6},{"r":28,"c":47,"v":6},{"r":28,"c":48,"v":6},{"r":28,"c":49,"v":6},
{"r":29,"c":0,"v":6},{"r":29,"c":1,"v":6},{"r":29,"c":2,"v":7},{"r":29,"c":3,"v":6},{"r":29,"c":4,"v":6},{"r":29,"c":5,"v":6},{"r":29,"c":6,"v":6},{"r":29,"c":7,"v":7},{"r":29,"c":8,"v":6},{"r":29,"c":9,"v":6},{"r":29,"c":10,"v":5},{"r":29,"c":11,"v":5},{"r":29,"c":12,"v":5},{"r":29,"c":13,"v":3},{"r":29,"c":14,"v":5},{"r":29,"c":15,"v":5},{"r":29,"c":16,"v":5},{"r":29,"c":17,"v":3},{"r":29,"c":18,"v":5},{"r":29,"c":19,"v":5},{"r":29,"c":20,"v":58},{"r":29,"c":21,"v":50},{"r":29,"c":22,"v":58},{"r":29,"c":23,"v":59},{"r":29,"c":24,"v":60},{"r":29,"c":25,"v":40},{"r":29,"c":26,"v":59},{"r":29,"c":27,"v":58},{"r":29,"c":28,"v":66},{"r":29,"c":29,"v":82},{"r":29,"c":30,"v":8},{"r":29,"c":31,"v":4},{"r":29,"c":32,"v":8},{"r":29,"c":33,"v":8},{"r":29,"c":34,"v":8},{"r":29,"c":35,"v":8},{"r":29,"c":36,"v":9},{"r":29,"c":37,"v":8},{"r":29,"c":38,"v":8},{"r":29,"c":39,"v":8},{"r":29,"c":40,"v":5},{"r":29,"c":41,"v":5},{"r":29,"c":42,"v":5},{"r":29,"c":43,"v":5},{"r":29,"c":44,"v":6},{"r":29,"c":45,"v":6},{"r":29,"c":46,"v":5},{"r":29,"c":47,"v":5},{"r":29,"c":48,"v":5},{"r":29,"c":49,"v":5},
{"r":30,"c":0,"v":7},{"r":30,"c":1,"v":7},{"r":30,"c":2,"v":8},{"r":30,"c":3,"v":7},{"r":30,"c":4,"v":7},{"r":30,"c":5,"v":7},{"r":30,"c":6,"v":7},{"r":30,"c":7,"v":8},{"r":30,"c":8,"v":7},{"r":30,"c":9,"v":7},{"r":30,"c":10,"v":6},{"r":30,"c":11,"v":6},{"r":30,"c":12,"v":6},{"r":30,"c":13,"v":3},{"r":30,"c":14,"v":6},{"r":30,"c":15,"v":6},{"r":30,"c":16,"v":6},{"r":30,"c":17,"v":4},{"r":30,"c":18,"v":6},{"r":30,"c":19,"v":6},{"r":30,"c":20,"v":9},{"r":30,"c":21,"v":6},{"r":30,"c":22,"v":9},{"r":30,"c":23,"v":9},{"r":30,"c":24,"v":9},{"r":30,"c":25,"v":5},{"r":30,"c":26,"v":9},{"r":30,"c":27,"v":10},{"r":30,"c":28,"v":9},{"r":30,"c":29,"v":9},{"r":30,"c":30,"v":78},{"r":30,"c":31,"v":68},{"r":30,"c":32,"v":62},{"r":30,"c":33,"v":63},{"r":30,"c":34,"v":62},{"r":30,"c":35,"v":61},{"r":30,"c":36,"v":62},{"r":30,"c":37,"v":63},{"r":30,"c":38,"v":62},{"r":30,"c":39,"v":62},{"r":30,"c":40,"v":5},{"r":30,"c":41,"v":5},{"r":30,"c":42,"v":5},{"r":30,"c":43,"v":5},{"r":30,"c":44,"v":6},{"r":30,"c":45,"v":6},{"r":30,"c":46,"v":5},{"r":30,"c":47,"v":5},{"r":30,"c":48,"v":5},{"r":30,"c":49,"v":5},
{"r":31,"c":0,"v":4},{"r":31,"c":1,"v":4},{"r":31,"c":2,"v":5},{"r":31,"c":3,"v":4},{"r":31,"c":4,"v":4},{"r":31,"c":5,"v":4},{"r":31,"c":6,"v":4},{"r":31,"c":7,"v":5},{"r":31,"c":8,"v":4},{"r":31,"c":9,"v":4},{"r":31,"c":10,"v":4},{"r":31,"c":11,"v":4},{"r":31,"c":12,"v":4},{"r":31,"c":13,"v":1},{"r":31,"c":14,"v":4},{"r":31,"c":15,"v":4},{"r":31,"c":16,"v":4},{"r":31,"c":17,"v":2},{"r":31,"c":18,"v":4},{"r":31,"c":19,"v":4},{"r":31,"c":20,"v":6},{"r":31,"c":21,"v":3},{"r":31,"c":22,"v":6},{"r":31,"c":23,"v":6},{"r":31,"c":24,"v":6},{"r":31,"c":25,"v":3},{"r":31,"c":26,"v":6},{"r":31,"c":27,"v":7},{"r":31,"c":28,"v":6},{"r":31,"c":29,"v":6},{"r":31,"c":30,"v":68},{"r":31,"c":31,"v":78},{"r":31,"c":32,"v":68},{"r":31,"c":33,"v":56},{"r":31,"c":34,"v":56},{"r":31,"c":35,"v":56},{"r":31,"c":36,"v":56},{"r":31,"c":37,"v":56},{"r":31,"c":38,"v":56},{"r":31,"c":39,"v":56},{"r":31,"c":40,"v":3},{"r":31,"c":41,"v":3},{"r":31,"c":42,"v":3},{"r":31,"c":43,"v":3},{"r":31,"c":44,"v":4},{"r":31,"c":45,"v":4},{"r":31,"c":46,"v":3},{"r":31,"c":47,"v":3},{"r":31,"c":48,"v":3},{"r":31,"c":49,"v":3},
{"r":32,"c":0,"v":7},{"r":32,"c":1,"v":7},{"r":32,"c":2,"v":8},{"r":32,"c":3,"v":7},{"r":32,"c":4,"v":7},{"r":32,"c":5,"v":7},{"r":32,"c":6,"v":7},{"r":32,"c":7,"v":8},{"r":32,"c":8,"v":7},{"r":32,"c":9,"v":7},{"r":32,"c":10,"v":6},{"r":32,"c":11,"v":6},{"r":32,"c":12,"v":6},{"r":32,"c":13,"v":3},{"r":32,"c":14,"v":6},{"r":32,"c":15,"v":6},{"r":32,"c":16,"v":6},{"r":32,"c":17,"v":4},{"r":32,"c":18,"v":6},{"r":32,"c":19,"v":6},{"r":32,"c":20,"v":9},{"r":32,"c":21,"v":6},{"r":32,"c":22,"v":9},{"r":32,"c":23,"v":9},{"r":32,"c":24,"v":9},{"r":32,"c":25,"v":5},{"r":32,"c":26,"v":9},{"r":32,"c":27,"v":10},{"r":32,"c":28,"v":9},{"r":32,"c":29,"v":9},{"r":32,"c":30,"v":62},{"r":32,"c":31,"v":68},{"r":32,"c":32,"v":78},{"r":32,"c":33,"v":68},{"r":32,"c":34,"v":62},{"r":32,"c":35,"v":63},{"r":32,"c":36,"v":62},{"r":32,"c":37,"v":67},{"r":32,"c":38,"v":67},{"r":32,"c":39,"v":62},{"r":32,"c":40,"v":5},{"r":32,"c":41,"v":5},{"r":32,"c":42,"v":5},{"r":32,"c":43,"v":5},{"r":32,"c":44,"v":6},{"r":32,"c":45,"v":6},{"r":32,"c":46,"v":5},{"r":32,"c":47,"v":5},{"r":32,"c":48,"v":5},{"r":32,"c":49,"v":5},
{"r":33,"c":0,"v":8},{"r":33,"c":1,"v":8},{"r":33,"c":2,"v":9},{"r":33,"c":3,"v":8},{"r":33,"c":4,"v":8},{"r":33,"c":5,"v":8},{"r":33,"c":6,"v":8},{"r":33,"c":7,"v":9},{"r":33,"c":8,"v":8},{"r":33,"c":9,"v":8},{"r":33,"c":10,"v":7},{"r":33,"c":11,"v":7},{"r":33,"c":12,"v":7},{"r":33,"c":13,"v":4},{"r":33,"c":14,"v":7},{"r":33,"c":15,"v":7},{"r":33,"c":16,"v":7},{"r":33,"c":17,"v":5},{"r":33,"c":18,"v":7},{"r":33,"c":19,"v":7},{"r":33,"c":20,"v":10},{"r":33,"c":21,"v":7},{"r":33,"c":22,"v":10},{"r":33,"c":23,"v":10},{"r":33,"c":24,"v":10},{"r":33,"c":25,"v":6},{"r":33,"c":26,"v":10},{"r":33,"c":27,"v":11},{"r":33,"c":28,"v":10},{"r":33,"c":29,"v":10},{"r":33,"c":30,"v":63},{"r":33,"c":31,"v":56},{"r":33,"c":32,"v":68},{"r":33,"c":33,"v":78},{"r":33,"c":34,"v":68},{"r":33,"c":35,"v":62},{"r":33,"c":36,"v":61},{"r":33,"c":37,"v":67},{"r":33,"c":38,"v":68},{"r":33,"c":39,"v":62},{"r":33,"c":40,"v":6},{"r":33,"c":41,"v":6},{"r":33,"c":42,"v":6},{"r":33,"c":43,"v":6},{"r":33,"c":44,"v":7},{"r":33,"c":45,"v":7},{"r":33,"c":46,"v":6},{"r":33,"c":47,"v":6},{"r":33,"c":48,"v":6},{"r":33,"c":49,"v":6},
{"r":34,"c":0,"v":7},{"r":34,"c":1,"v":7},{"r":34,"c":2,"v":8},{"r":34,"c":3,"v":7},{"r":34,"c":4,"v":7},{"r":34,"c":5,"v":7},{"r":34,"c":6,"v":7},{"r":34,"c":7,"v":8},{"r":34,"c":8,"v":7},{"r":34,"c":9,"v":7},{"r":34,"c":10,"v":6},{"r":34,"c":11,"v":6},{"r":34,"c":12,"v":6},{"r":34,"c":13,"v":3},{"r":34,"c":14,"v":6},{"r":34,"c":15,"v":6},{"r":34,"c":16,"v":6},{"r":34,"c":17,"v":4},{"r":34,"c":18,"v":6},{"r":34,"c":19,"v":6},{"r":34,"c":20,"v":9},{"r":34,"c":21,"v":6},{"r":34,"c":22,"v":9},{"r":34,"c":23,"v":9},{"r":34,"c":24,"v":9},{"r":34,"c":25,"v":5},{"r":34,"c":26,"v":9},{"r":34,"c":27,"v":10},{"r":34,"c":28,"v":9},{"r":34,"c":29,"v":9},{"r":34,"c":30,"v":62},{"r":34,"c":31,"v":56},{"r":34,"c":32,"v":62},{"r":34,"c":33,"v":68},{"r":34,"c":34,"v":78},{"r":34,"c":35,"v":68},{"r":34,"c":36,"v":62},{"r":34,"c":37,"v":68},{"r":34,"c":38,"v":67},{"r":34,"c":39,"v":63},{"r":34,"c":40,"v":5},{"r":34,"c":41,"v":5},{"r":34,"c":42,"v":5},{"r":34,"c":43,"v":5},{"r":34,"c":44,"v":6},{"r":34,"c":45,"v":6},{"r":34,"c":46,"v":5},{"r":34,"c":47,"v":5},{"r":34,"c":48,"v":5},{"r":34,"c":49,"v":5},
{"r":35,"c":0,"v":7},{"r":35,"c":1,"v":7},{"r":35,"c":2,"v":8},{"r":35,"c":3,"v":7},{"r":35,"c":4,"v":7},{"r":35,"c":5,"v":7},{"r":35,"c":6,"v":7},{"r":35,"c":7,"v":8},{"r":35,"c":8,"v":7},{"r":35,"c":9,"v":7},{"r":35,"c":10,"v":6},{"r":35,"c":11,"v":6},{"r":35,"c":12,"v":6},{"r":35,"c":13,"v":3},{"r":35,"c":14,"v":6},{"r":35,"c":15,"v":6},{"r":35,"c":16,"v":6},{"r":35,"c":17,"v":4},{"r":35,"c":18,"v":6},{"r":35,"c":19,"v":6},{"r":35,"c":20,"v":9},{"r":35,"c":21,"v":6},{"r":35,"c":22,"v":9},{"r":35,"c":23,"v":9},{"r":35,"c":24,"v":9},{"r":35,"c":25,"v":5},{"r":35,"c":26,"v":9},{"r":35,"c":27,"v":10},{"r":35,"c":28,"v":9},{"r":35,"c":29,"v":9},{"r":35,"c":30,"v":61},{"r":35,"c":31,"v":56},{"r":35,"c":32,"v":62},{"r":35,"c":33,"v":62},{"r":35,"c":34,"v":68},{"r":35,"c":35,"v":78},{"r":35,"c":36,"v":68},{"r":35,"c":37,"v":67},{"r":35,"c":38,"v":67},{"r":35,"c":39,"v":62},{"r":35,"c":40,"v":5},{"r":35,"c":41,"v":5},{"r":35,"c":42,"v":5},{"r":35,"c":43,"v":5},{"r":35,"c":44,"v":6},{"r":35,"c":45,"v":6},{"r":35,"c":46,"v":5},{"r":35,"c":47,"v":5},{"r":35,"c":48,"v":5},{"r":35,"c":49,"v":5},
{"r":36,"c":0,"v":9},{"r":36,"c":1,"v":9},{"r":36,"c":2,"v":10},{"r":36,"c":3,"v":9},{"r":36,"c":4,"v":9},{"r":36,"c":5,"v":9},{"r":36,"c":6,"v":9},{"r":36,"c":7,"v":10},{"r":36,"c":8,"v":9},{"r":36,"c":9,"v":9},{"r":36,"c":10,"v":7},{"r":36,"c":11,"v":7},{"r":36,"c":12,"v":7},{"r":36,"c":13,"v":4},{"r":36,"c":14,"v":7},{"r":36,"c":15,"v":7},{"r":36,"c":16,"v":7},{"r":36,"c":17,"v":5},{"r":36,"c":18,"v":7},{"r":36,"c":19,"v":7},{"r":36,"c":20,"v":10},{"r":36,"c":21,"v":7},{"r":36,"c":22,"v":10},{"r":36,"c":23,"v":10},{"r":36,"c":24,"v":10},{"r":36,"c":25,"v":6},{"r":36,"c":26,"v":10},{"r":36,"c":27,"v":11},{"r":36,"c":28,"v":10},{"r":36,"c":29,"v":10},{"r":36,"c":30,"v":67},{"r":36,"c":31,"v":56},{"r":36,"c":32,"v":68},{"r":36,"c":33,"v":67},{"r":36,"c":34,"v":62},{"r":36,"c":35,"v":68},{"r":36,"c":36,"v":78},{"r":36,"c":37,"v":68},{"r":36,"c":38,"v":62},{"r":36,"c":39,"v":63},{"r":36,"c":40,"v":6},{"r":36,"c":41,"v":6},{"r":36,"c":42,"v":6},{"r":36,"c":43,"v":6},{"r":36,"c":44,"v":7},{"r":36,"c":45,"v":7},{"r":36,"c":46,"v":6},{"r":36,"c":47,"v":6},{"r":36,"c":48,"v":6},{"r":36,"c":49,"v":6},
{"r":37,"c":0,"v":7},{"r":37,"c":1,"v":7},{"r":37,"c":2,"v":8},{"r":37,"c":3,"v":7},{"r":37,"c":4,"v":7},{"r":37,"c":5,"v":7},{"r":37,"c":6,"v":7},{"r":37,"c":7,"v":8},{"r":37,"c":8,"v":7},{"r":37,"c":9,"v":7},{"r":37,"c":10,"v":6},{"r":37,"c":11,"v":6},{"r":37,"c":12,"v":6},{"r":37,"c":13,"v":3},{"r":37,"c":14,"v":6},{"r":37,"c":15,"v":6},{"r":37,"c":16,"v":6},{"r":37,"c":17,"v":4},{"r":37,"c":18,"v":6},{"r":37,"c":19,"v":6},{"r":37,"c":20,"v":9},{"r":37,"c":21,"v":6},{"r":37,"c":22,"v":9},{"r":37,"c":23,"v":9},{"r":37,"c":24,"v":9},{"r":37,"c":25,"v":5},{"r":37,"c":26,"v":9},{"r":37,"c":27,"v":10},{"r":37,"c":28,"v":9},{"r":37,"c":29,"v":9},{"r":37,"c":30,"v":68},{"r":37,"c":31,"v":56},{"r":37,"c":32,"v":67},{"r":37,"c":33,"v":67},{"r":37,"c":34,"v":62},{"r":37,"c":35,"v":61},{"r":37,"c":36,"v":68},{"r":37,"c":37,"v":78},{"r":37,"c":38,"v":68},{"r":37,"c":39,"v":62},{"r":37,"c":40,"v":5},{"r":37,"c":41,"v":5},{"r":37,"c":42,"v":5},{"r":37,"c":43,"v":5},{"r":37,"c":44,"v":6},{"r":37,"c":45,"v":6},{"r":37,"c":46,"v":5},{"r":37,"c":47,"v":5},{"r":37,"c":48,"v":5},{"r":37,"c":49,"v":5},
{"r":38,"c":0,"v":8},{"r":38,"c":1,"v":8},{"r":38,"c":2,"v":9},{"r":38,"c":3,"v":8},{"r":38,"c":4,"v":8},{"r":38,"c":5,"v":8},{"r":38,"c":6,"v":8},{"r":38,"c":7,"v":9},{"r":38,"c":8,"v":8},{"r":38,"c":9,"v":8},{"r":38,"c":10,"v":7},{"r":38,"c":11,"v":7},{"r":38,"c":12,"v":7},{"r":38,"c":13,"v":4},{"r":38,"c":14,"v":7},{"r":38,"c":15,"v":7},{"r":38,"c":16,"v":7},{"r":38,"c":17,"v":5},{"r":38,"c":18,"v":7},{"r":38,"c":19,"v":7},{"r":38,"c":20,"v":10},{"r":38,"c":21,"v":7},{"r":38,"c":22,"v":10},{"r":38,"c":23,"v":10},{"r":38,"c":24,"v":10},{"r":38,"c":25,"v":6},{"r":38,"c":26,"v":10},{"r":38,"c":27,"v":11},{"r":38,"c":28,"v":10},{"r":38,"c":29,"v":10},{"r":38,"c":30,"v":67},{"r":38,"c":31,"v":56},{"r":38,"c":32,"v":67},{"r":38,"c":33,"v":68},{"r":38,"c":34,"v":62},{"r":38,"c":35,"v":62},{"r":38,"c":36,"v":62},{"r":38,"c":37,"v":68},{"r":38,"c":38,"v":78},{"r":38,"c":39,"v":68},{"r":38,"c":40,"v":6},{"r":38,"c":41,"v":6},{"r":38,"c":42,"v":6},{"r":38,"c":43,"v":6},{"r":38,"c":44,"v":7},{"r":38,"c":45,"v":7},{"r":38,"c":46,"v":6},{"r":38,"c":47,"v":6},{"r":38,"c":48,"v":6},{"r":38,"c":49,"v":6},
{"r":39,"c":0,"v":7},{"r":39,"c":1,"v":7},{"r":39,"c":2,"v":8},{"r":39,"c":3,"v":7},{"r":39,"c":4,"v":7},{"r":39,"c":5,"v":7},{"r":39,"c":6,"v":7},{"r":39,"c":7,"v":8},{"r":39,"c":8,"v":7},{"r":39,"c":9,"v":7},{"r":39,"c":10,"v":6},{"r":39,"c":11,"v":6},{"r":39,"c":12,"v":6},{"r":39,"c":13,"v":3},{"r":39,"c":14,"v":6},{"r":39,"c":15,"v":6},{"r":39,"c":16,"v":6},{"r":39,"c":17,"v":4},{"r":39,"c":18,"v":6},{"r":39,"c":19,"v":6},{"r":39,"c":20,"v":9},{"r":39,"c":21,"v":6},{"r":39,"c":22,"v":9},{"r":39,"c":23,"v":9},{"r":39,"c":24,"v":9},{"r":39,"c":25,"v":5},{"r":39,"c":26,"v":9},{"r":39,"c":27,"v":10},{"r":39,"c":28,"v":9},{"r":39,"c":29,"v":9},{"r":39,"c":30,"v":62},{"r":39,"c":31,"v":56},{"r":39,"c":32,"v":62},{"r":39,"c":33,"v":62},{"r":39,"c":34,"v":63},{"r":39,"c":35,"v":62},{"r":39,"c":36,"v":62},{"r":39,"c":37,"v":62},{"r":39,"c":38,"v":68},{"r":39,"c":39,"v":78},{"r":39,"c":40,"v":5},{"r":39,"c":41,"v":5},{"r":39,"c":42,"v":5},{"r":39,"c":43,"v":5},{"r":39,"c":44,"v":6},{"r":39,"c":45,"v":6},{"r":39,"c":46,"v":5},{"r":39,"c":47,"v":5},{"r":39,"c":48,"v":5},{"r":39,"c":49,"v":5},
{"r":40,"c":0,"v":18},{"r":40,"c":1,"v":18},{"r":40,"c":2,"v":19},{"r":40,"c":3,"v":18},{"r":40,"c":4,"v":18},{"r":40,"c":5,"v":18},{"r":40,"c":6,"v":18},{"r":40,"c":7,"v":19},{"r":40,"c":8,"v":18},{"r":40,"c":9,"v":17},{"r":40,"c":10,"v":4},{"r":40,"c":11,"v":4},{"r":40,"c":12,"v":4},{"r":40,"c":13,"v":2},{"r":40,"c":14,"v":4},{"r":40,"c":15,"v":4},{"r":40,"c":16,"v":4},{"r":40,"c":17,"v":3},{"r":40,"c":18,"v":4},{"r":40,"c":19,"v":4},{"r":40,"c":20,"v":6},{"r":40,"c":21,"v":3},{"r":40,"c":22,"v":6},{"r":40,"c":23,"v":6},{"r":40,"c":24,"v":6},{"r":40,"c":25,"v":5},{"r":40,"c":26,"v":6},{"r":40,"c":27,"v":6},{"r":40,"c":28,"v":6},{"r":40,"c":29,"v":6},{"r":40,"c":30,"v":6},{"r":40,"c":31,"v":3},{"r":40,"c":32,"v":6},{"r":40,"c":33,"v":6},{"r":40,"c":34,"v":6},{"r":40,"c":35,"v":6},{"r":40,"c":36,"v":6},{"r":40,"c":37,"v":6},{"r":40,"c":38,"v":6},{"r":40,"c":39,"v":6},{"r":40,"c":40,"v":47},{"r":40,"c":41,"v":42},{"r":40,"c":42,"v":40},{"r":40,"c":43,"v":41},{"r":40,"c":44,"v":40},{"r":40,"c":45,"v":39},{"r":40,"c":46,"v":40},{"r":40,"c":47,"v":41},{"r":40,"c":48,"v":40},{"r":40,"c":49,"v":40},
{"r":41,"c":0,"v":18},{"r":41,"c":1,"v":18},{"r":41,"c":2,"v":19},{"r":41,"c":3,"v":18},{"r":41,"c":4,"v":18},{"r":41,"c":5,"v":18},{"r":41,"c":6,"v":18},{"r":41,"c":7,"v":19},{"r":41,"c":8,"v":18},{"r":41,"c":9,"v":17},{"r":41,"c":10,"v":4},{"r":41,"c":11,"v":4},{"r":41,"c":12,"v":4},{"r":41,"c":13,"v":2},{"r":41,"c":14,"v":4},{"r":41,"c":15,"v":4},{"r":41,"c":16,"v":4},{"r":41,"c":17,"v":3},{"r":41,"c":18,"v":4},{"r":41,"c":19,"v":4},{"r":41,"c":20,"v":6},{"r":41,"c":21,"v":3},{"r":41,"c":22,"v":6},{"r":41,"c":23,"v":6},{"r":41,"c":24,"v":6},{"r":41,"c":25,"v":5},{"r":41,"c":26,"v":6},{"r":41,"c":27,"v":6},{"r":41,"c":28,"v":6},{"r":41,"c":29,"v":6},{"r":41,"c":30,"v":6},{"r":41,"c":31,"v":3},{"r":41,"c":32,"v":6},{"r":41,"c":33,"v":6},{"r":41,"c":34,"v":6},{"r":41,"c":35,"v":6},{"r":41,"c":36,"v":6},{"r":41,"c":37,"v":6},{"r":41,"c":38,"v":6},{"r":41,"c":39,"v":6},{"r":41,"c":40,"v":42},{"r":41,"c":41,"v":47},{"r":41,"c":42,"v":42},{"r":41,"c":43,"v":40},{"r":41,"c":44,"v":41},{"r":41,"c":45,"v":40},{"r":41,"c":46,"v":40},{"r":41,"c":47,"v":40},{"r":41,"c":48,"v":41},{"r":41,"c":49,"v":40},
{"r":42,"c":0,"v":20},{"r":42,"c":1,"v":20},{"r":42,"c":2,"v":21},{"r":42,"c":3,"v":20},{"r":42,"c":4,"v":20},{"r":42,"c":5,"v":20},{"r":42,"c":6,"v":20},{"r":42,"c":7,"v":21},{"r":42,"c":8,"v":20},{"r":42,"c":9,"v":19},{"r":42,"c":10,"v":4},{"r":42,"c":11,"v":4},{"r":42,"c":12,"v":4},{"r":42,"c":13,"v":2},{"r":42,"c":14,"v":4},{"r":42,"c":15,"v":4},{"r":42,"c":16,"v":4},{"r":42,"c":17,"v":3},{"r":42,"c":18,"v":4},{"r":42,"c":19,"v":4},{"r":42,"c":20,"v":6},{"r":42,"c":21,"v":3},{"r":42,"c":22,"v":6},{"r":42,"c":23,"v":6},{"r":42,"c":24,"v":6},{"r":42,"c":25,"v":5},{"r":42,"c":26,"v":6},{"r":42,"c":27,"v":6},{"r":42,"c":28,"v":6},{"r":42,"c":29,"v":6},{"r":42,"c":30,"v":6},{"r":42,"c":31,"v":3},{"r":42,"c":32,"v":6},{"r":42,"c":33,"v":6},{"r":42,"c":34,"v":6},{"r":42,"c":35,"v":6},{"r":42,"c":36,"v":6},{"r":42,"c":37,"v":6},{"r":42,"c":38,"v":6},{"r":42,"c":39,"v":6},{"r":42,"c":40,"v":40},{"r":42,"c":41,"v":42},{"r":42,"c":42,"v":47},{"r":42,"c":43,"v":42},{"r":42,"c":44,"v":40},{"r":42,"c":45,"v":41},{"r":42,"c":46,"v":40},{"r":42,"c":47,"v":40},{"r":42,"c":48,"v":40},{"r":42,"c":49,"v":41},
{"r":43,"c":0,"v":19},{"r":43,"c":1,"v":19},{"r":43,"c":2,"v":20},{"r":43,"c":3,"v":19},{"r":43,"c":4,"v":19},{"r":43,"c":5,"v":19},{"r":43,"c":6,"v":19},{"r":43,"c":7,"v":20},{"r":43,"c":8,"v":19},{"r":43,"c":9,"v":18},{"r":43,"c":10,"v":4},{"r":43,"c":11,"v":4},{"r":43,"c":12,"v":4},{"r":43,"c":13,"v":2},{"r":43,"c":14,"v":4},{"r":43,"c":15,"v":4},{"r":43,"c":16,"v":4},{"r":43,"c":17,"v":3},{"r":43,"c":18,"v":4},{"r":43,"c":19,"v":4},{"r":43,"c":20,"v":6},{"r":43,"c":21,"v":3},{"r":43,"c":22,"v":6},{"r":43,"c":23,"v":6},{"r":43,"c":24,"v":6},{"r":43,"c":25,"v":5},{"r":43,"c":26,"v":6},{"r":43,"c":27,"v":6},{"r":43,"c":28,"v":6},{"r":43,"c":29,"v":6},{"r":43,"c":30,"v":6},{"r":43,"c":31,"v":3},{"r":43,"c":32,"v":6},{"r":43,"c":33,"v":6},{"r":43,"c":34,"v":6},{"r":43,"c":35,"v":6},{"r":43,"c":36,"v":6},{"r":43,"c":37,"v":6},{"r":43,"c":38,"v":6},{"r":43,"c":39,"v":6},{"r":43,"c":40,"v":41},{"r":43,"c":41,"v":40},{"r":43,"c":42,"v":42},{"r":43,"c":43,"v":47},{"r":43,"c":44,"v":42},{"r":43,"c":45,"v":40},{"r":43,"c":46,"v":40},{"r":43,"c":47,"v":41},{"r":43,"c":48,"v":40},{"r":43,"c":49,"v":40},
{"r":44,"c":0,"v":18},{"r":44,"c":1,"v":18},{"r":44,"c":2,"v":19},{"r":44,"c":3,"v":18},{"r":44,"c":4,"v":18},{"r":44,"c":5,"v":18},{"r":44,"c":6,"v":18},{"r":44,"c":7,"v":19},{"r":44,"c":8,"v":18},{"r":44,"c":9,"v":17},{"r":44,"c":10,"v":4},{"r":44,"c":11,"v":4},{"r":44,"c":12,"v":4},{"r":44,"c":13,"v":2},{"r":44,"c":14,"v":4},{"r":44,"c":15,"v":4},{"r":44,"c":16,"v":4},{"r":44,"c":17,"v":3},{"r":44,"c":18,"v":4},{"r":44,"c":19,"v":4},{"r":44,"c":20,"v":6},{"r":44,"c":21,"v":3},{"r":44,"c":22,"v":6},{"r":44,"c":23,"v":6},{"r":44,"c":24,"v":6},{"r":44,"c":25,"v":5},{"r":44,"c":26,"v":6},{"r":44,"c":27,"v":6},{"r":44,"c":28,"v":6},{"r":44,"c":29,"v":6},{"r":44,"c":30,"v":6},{"r":44,"c":31,"v":3},{"r":44,"c":32,"v":6},{"r":44,"c":33,"v":6},{"r":44,"c":34,"v":6},{"r":44,"c":35,"v":6},{"r":44,"c":36,"v":6},{"r":44,"c":37,"v":6},{"r":44,"c":38,"v":6},{"r":44,"c":39,"v":6},{"r":44,"c":40,"v":40},{"r":44,"c":41,"v":41},{"r":44,"c":42,"v":40},{"r":44,"c":43,"v":42},{"r":44,"c":44,"v":47},{"r":44,"c":45,"v":42},{"r":44,"c":46,"v":40},{"r":44,"c":47,"v":40},{"r":44,"c":48,"v":41},{"r":44,"c":49,"v":40},
{"r":45,"c":0,"v":16},{"r":45,"c":1,"v":16},{"r":45,"c":2,"v":17},{"r":45,"c":3,"v":16},{"r":45,"c":4,"v":16},{"r":45,"c":5,"v":16},{"r":45,"c":6,"v":16},{"r":45,"c":7,"v":17},{"r":45,"c":8,"v":16},{"r":45,"c":9,"v":15},{"r":45,"c":10,"v":4},{"r":45,"c":11,"v":4},{"r":45,"c":12,"v":4},{"r":45,"c":13,"v":2},{"r":45,"c":14,"v":4},{"r":45,"c":15,"v":4},{"r":45,"c":16,"v":4},{"r":45,"c":17,"v":3},{"r":45,"c":18,"v":4},{"r":45,"c":19,"v":4},{"r":45,"c":20,"v":6},{"r":45,"c":21,"v":3},{"r":45,"c":22,"v":6},{"r":45,"c":23,"v":6},{"r":45,"c":24,"v":6},{"r":45,"c":25,"v":5},{"r":45,"c":26,"v":6},{"r":45,"c":27,"v":6},{"r":45,"c":28,"v":6},{"r":45,"c":29,"v":6},{"r":45,"c":30,"v":6},{"r":45,"c":31,"v":3},{"r":45,"c":32,"v":6},{"r":45,"c":33,"v":6},{"r":45,"c":34,"v":6},{"r":45,"c":35,"v":6},{"r":45,"c":36,"v":6},{"r":45,"c":37,"v":6},{"r":45,"c":38,"v":6},{"r":45,"c":39,"v":6},{"r":45,"c":40,"v":39},{"r":45,"c":41,"v":40},{"r":45,"c":42,"v":41},{"r":45,"c":43,"v":40},{"r":45,"c":44,"v":42},{"r":45,"c":45,"v":47},{"r":45,"c":46,"v":42},{"r":45,"c":47,"v":40},{"r":45,"c":48,"v":40},{"r":45,"c":49,"v":40},
{"r":46,"c":0,"v":18},{"r":46,"c":1,"v":18},{"r":46,"c":2,"v":19},{"r":46,"c":3,"v":18},{"r":46,"c":4,"v":18},{"r":46,"c":5,"v":18},{"r":46,"c":6,"v":18},{"r":46,"c":7,"v":19},{"r":46,"c":8,"v":18},{"r":46,"c":9,"v":17},{"r":46,"c":10,"v":4},{"r":46,"c":11,"v":4},{"r":46,"c":12,"v":4},{"r":46,"c":13,"v":2},{"r":46,"c":14,"v":4},{"r":46,"c":15,"v":4},{"r":46,"c":16,"v":4},{"r":46,"c":17,"v":3},{"r":46,"c":18,"v":4},{"r":46,"c":19,"v":4},{"r":46,"c":20,"v":6},{"r":46,"c":21,"v":3},{"r":46,"c":22,"v":6},{"r":46,"c":23,"v":6},{"r":46,"c":24,"v":6},{"r":46,"c":25,"v":5},{"r":46,"c":26,"v":6},{"r":46,"c":27,"v":6},{"r":46,"c":28,"v":6},{"r":46,"c":29,"v":6},{"r":46,"c":30,"v":6},{"r":46,"c":31,"v":3},{"r":46,"c":32,"v":6},{"r":46,"c":33,"v":6},{"r":46,"c":34,"v":6},{"r":46,"c":35,"v":6},{"r":46,"c":36,"v":6},{"r":46,"c":37,"v":6},{"r":46,"c":38,"v":6},{"r":46,"c":39,"v":6},{"r":46,"c":40,"v":40},{"r":46,"c":41,"v":40},{"r":46,"c":42,"v":40},{"r":46,"c":43,"v":40},{"r":46,"c":44,"v":40},{"r":46,"c":45,"v":42},{"r":46,"c":46,"v":47},{"r":46,"c":47,"v":42},{"r":46,"c":48,"v":40},{"r":46,"c":49,"v":41},
{"r":47,"c":0,"v":20},{"r":47,"c":1,"v":20},{"r":47,"c":2,"v":21},{"r":47,"c":3,"v":20},{"r":47,"c":4,"v":20},{"r":47,"c":5,"v":20},{"r":47,"c":6,"v":20},{"r":47,"c":7,"v":21},{"r":47,"c":8,"v":20},{"r":47,"c":9,"v":19},{"r":47,"c":10,"v":4},{"r":47,"c":11,"v":4},{"r":47,"c":12,"v":4},{"r":47,"c":13,"v":2},{"r":47,"c":14,"v":4},{"r":47,"c":15,"v":4},{"r":47,"c":16,"v":4},{"r":47,"c":17,"v":3},{"r":47,"c":18,"v":4},{"r":47,"c":19,"v":4},{"r":47,"c":20,"v":6},{"r":47,"c":21,"v":3},{"r":47,"c":22,"v":6},{"r":47,"c":23,"v":6},{"r":47,"c":24,"v":6},{"r":47,"c":25,"v":5},{"r":47,"c":26,"v":6},{"r":47,"c":27,"v":6},{"r":47,"c":28,"v":6},{"r":47,"c":29,"v":6},{"r":47,"c":30,"v":6},{"r":47,"c":31,"v":3},{"r":47,"c":32,"v":6},{"r":47,"c":33,"v":6},{"r":47,"c":34,"v":6},{"r":47,"c":35,"v":6},{"r":47,"c":36,"v":6},{"r":47,"c":37,"v":6},{"r":47,"c":38,"v":6},{"r":47,"c":39,"v":6},{"r":47,"c":40,"v":41},{"r":47,"c":41,"v":40},{"r":47,"c":42,"v":40},{"r":47,"c":43,"v":41},{"r":47,"c":44,"v":40},{"r":47,"c":45,"v":40},{"r":47,"c":46,"v":42},{"r":47,"c":47,"v":47},{"r":47,"c":48,"v":42},{"r":47,"c":49,"v":40},
{"r":48,"c":0,"v":18},{"r":48,"c":1,"v":18},{"r":48,"c":2,"v":19},{"r":48,"c":3,"v":18},{"r":48,"c":4,"v":18},{"r":48,"c":5,"v":18},{"r":48,"c":6,"v":18},{"r":48,"c":7,"v":19},{"r":48,"c":8,"v":18},{"r":48,"c":9,"v":17},{"r":48,"c":10,"v":4},{"r":48,"c":11,"v":4},{"r":48,"c":12,"v":4},{"r":48,"c":13,"v":2},{"r":48,"c":14,"v":4},{"r":48,"c":15,"v":4},{"r":48,"c":16,"v":4},{"r":48,"c":17,"v":3},{"r":48,"c":18,"v":4},{"r":48,"c":19,"v":4},{"r":48,"c":20,"v":6},{"r":48,"c":21,"v":3},{"r":48,"c":22,"v":6},{"r":48,"c":23,"v":6},{"r":48,"c":24,"v":6},{"r":48,"c":25,"v":5},{"r":48,"c":26,"v":6},{"r":48,"c":27,"v":6},{"r":48,"c":28,"v":6},{"r":48,"c":29,"v":6},{"r":48,"c":30,"v":6},{"r":48,"c":31,"v":3},{"r":48,"c":32,"v":6},{"r":48,"c":33,"v":6},{"r":48,"c":34,"v":6},{"r":48,"c":35,"v":6},{"r":48,"c":36,"v":6},{"r":48,"c":37,"v":6},{"r":48,"c":38,"v":6},{"r":48,"c":39,"v":6},{"r":48,"c":40,"v":40},{"r":48,"c":41,"v":41},{"r":48,"c":42,"v":40},{"r":48,"c":43,"v":40},{"r":48,"c":44,"v":41},{"r":48,"c":45,"v":40},{"r":48,"c":46,"v":40},{"r":48,"c":47,"v":42},{"r":48,"c":48,"v":47},{"r":48,"c":49,"v":42},
{"r":49,"c":0,"v":17},{"r":49,"c":1,"v":17},{"r":49,"c":2,"v":18},{"r":49,"c":3,"v":17},{"r":49,"c":4,"v":17},{"r":49,"c":5,"v":17},{"r":49,"c":6,"v":17},{"r":49,"c":7,"v":18},{"r":49,"c":8,"v":17},{"r":49,"c":9,"v":16},{"r":49,"c":10,"v":4},{"r":49,"c":11,"v":4},{"r":49,"c":12,"v":4},{"r":49,"c":13,"v":2},{"r":49,"c":14,"v":4},{"r":49,"c":15,"v":4},{"r":49,"c":16,"v":4},{"r":49,"c":17,"v":3},{"r":49,"c":18,"v":4},{"r":49,"c":19,"v":4},{"r":49,"c":20,"v":6},{"r":49,"c":21,"v":3},{"r":49,"c":22,"v":6},{"r":49,"c":23,"v":6},{"r":49,"c":24,"v":6},{"r":49,"c":25,"v":5},{"r":49,"c":26,"v":6},{"r":49,"c":27,"v":6},{"r":49,"c":28,"v":6},{"r":49,"c":29,"v":6},{"r":49,"c":30,"v":6},{"r":49,"c":31,"v":3},{"r":49,"c":32,"v":6},{"r":49,"c":33,"v":6},{"r":49,"c":34,"v":6},{"r":49,"c":35,"v":6},{"r":49,"c":36,"v":6},{"r":49,"c":37,"v":6},{"r":49,"c":38,"v":6},{"r":49,"c":39,"v":6},{"r":49,"c":40,"v":40},{"r":49,"c":41,"v":40},{"r":49,"c":42,"v":41},{"r":49,"c":43,"v":40},{"r":49,"c":44,"v":40},{"r":49,"c":45,"v":40},{"r":49,"c":46,"v":41},{"r":49,"c":47,"v":40},{"r":49,"c":48,"v":42},{"r":49,"c":49,"v":47}
]},
"layer":[
{"mark":{"type":"square","size":104,"opacity":1,"filled":true,"strokeWidth":0,"clip":true},
 "encoding":{
  "x":{"field":"c","type":"quantitative","scale":{"domain":[-0.5,49.5],"nice":false,"zero":false},"axis":{"orient":"bottom","values":[0,10,20,30,40],"tickSize":-5,"labelPadding":10,"labelFontSize":13.5,"labelFlush":false,"labelOverlap":false,"format":"d"}},
  "y":{"field":"r","type":"quantitative","scale":{"domain":[-0.5,49.5],"nice":false,"zero":false,"reverse":true},"axis":{"orient":"left","values":[0,10,20,30,40],"tickSize":-5,"labelPadding":12,"labelFontSize":13.5,"labelFlush":false,"labelOverlap":false,"format":"d"}},
  "color":{"field":"v","type":"quantitative","scale":{"domain":[0,100],"range":["#ffffff","#000000"],"interpolate":"rgb"},
   "legend":{"orient":"right","direction":"vertical","title":null,"gradientLength":480,"gradientThickness":23,"offset":33,"padding":0,"values":[0,10,20,30,40,50,60,70,80,90,100],"labelExpr":"format(datum.value/100,'.1f')","labelFontSize":13.5,"labelFont":"DejaVu Sans","labelColor":"#000","labelOffset":4,"labelOverlap":false,"gradientStrokeColor":"#000","gradientStrokeWidth":1}}
 }},
{"mark":{"type":"point","opacity":0},
 "encoding":{
  "x":{"field":"c","type":"quantitative","scale":{"domain":[-0.5,49.5],"nice":false,"zero":false},"axis":{"orient":"top","values":[0,10,20,30,40],"tickSize":-5,"labelPadding":18,"labelAlign":"left","labelFontSize":17,"labelFlush":false,"labelOverlap":false,"labelOffset":{"condition":{"test":"datum.value == 30","value":19},"value":-2},"labelExpr":"['decoders','network','keyboard','sound','demuxers'][round(datum.value/10)]"}},
  "y":{"field":"r","type":"quantitative","scale":{"domain":[-0.5,49.5],"nice":false,"zero":false,"reverse":true},"axis":{"orient":"right","values":[0,10,20,30,40],"tickSize":-5,"labels":false}}
 }},
{"mark":{"type":"point","opacity":0},
 "encoding":{
  "x":{"field":"c","type":"quantitative","scale":{"domain":[-0.5,49.5],"nice":false,"zero":false},"axis":null},
  "y":{"field":"r","type":"quantitative","scale":{"domain":[-0.5,49.5],"nice":false,"zero":false,"reverse":true},"axis":{"orient":"left","values":[4.5,10.9,22.9,35.75,46.2],"ticks":false,"labelAngle":-90,"labelAlign":"center","labelBaseline":"alphabetic","labelPadding":0,"offset":36,"labelFontSize":13.5,"labelFlush":false,"labelOverlap":false,"labelExpr":"datum.value < 7 ? 'decoders' : datum.value < 15 ? 'network' : datum.value < 30 ? 'keyboard' : datum.value < 40 ? 'sound' : 'demuxers'"}}
 }}
],
"resolve":{"scale":{"x":"independent","y":"independent"}}
}
